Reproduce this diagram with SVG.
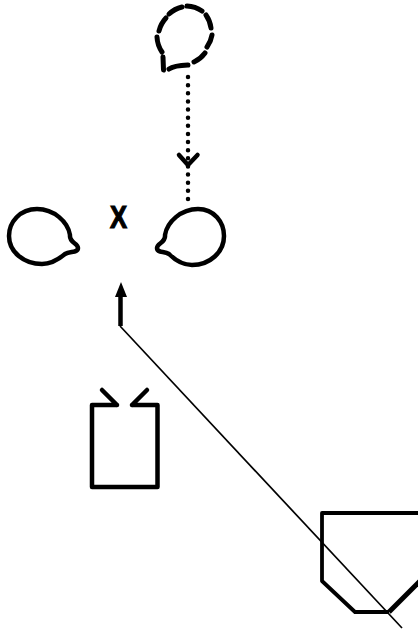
<svg xmlns="http://www.w3.org/2000/svg" width="418" height="630" viewBox="0 0 418 630">
<style>
.s{fill:none;stroke:#000;stroke-width:4.500;stroke-linecap:round;stroke-linejoin:round}
.t{fill:none;stroke:#000;stroke-width:1.700}
</style>
<rect width="418" height="630" fill="#fff"/>
<g id="node-dashed">
<path class="s" style="stroke-width:5" d="M163 57L163.500 70M169 69Q174 65.500 188 65M194 62A29 29 0 0 0 205 53M207 47A29 29 0 0 0 212 35M211 28A29 29 0 0 0 206 15M202 11A29 29 0 0 0 187 6M182 7A29 29 0 0 0 169 14M166 18A29 29 0 0 0 159 31M157 37A29 29 0 0 0 162 52"/>
</g>
<g id="node-left"><path class="s" d="M70 235C68 222 54 209 37 209C20 209 9 222 9 236C9 252 24 264 42 264C52 264 59 259 65 254C70 251 78 253 78 248C78 243 69 243 70 235Z"/></g>
<g id="node-right"><path class="s" d="M165 235C167 222 181 209 198 209C214 209 224 222 224 236C224 252 210 265 192 265C182 265 175 260 169 254C164 251 157 253 157 248C157 243 166 243 165 235Z"/></g>
<g id="node-x"><text transform="translate(118.500 228) scale(.8 1)" text-anchor="middle" font-family="Liberation Sans, sans-serif" font-weight="700" font-size="32" stroke="#000" stroke-width="1.200">X</text></g>
<g id="node-rect"><path class="s" d="M117 405H92V487H157.500V405H132M117 405L102 390M132 405L147 390"/></g>
<g id="node-hex"><path class="s" style="stroke-width:3.800;stroke-linecap:butt" d="M418 513H322V581L355 612H389"/><path d="M389 612L422 579" fill="none" stroke="#000" stroke-width="5"/></g>
<g id="connectors">
<path d="M188 77V199" fill="none" stroke="#000" stroke-width="4.500" stroke-linecap="round" stroke-dasharray="0 8.130"/>
<path class="s" d="M179 155L188 165L197.500 155"/>
<path d="M120.500 326V294" fill="none" stroke="#000" stroke-width="4.500"/>
<path d="M121 282L115 297H127Z"/>
<path class="t" d="M120 326L402 628"/>
</g>
</svg>
